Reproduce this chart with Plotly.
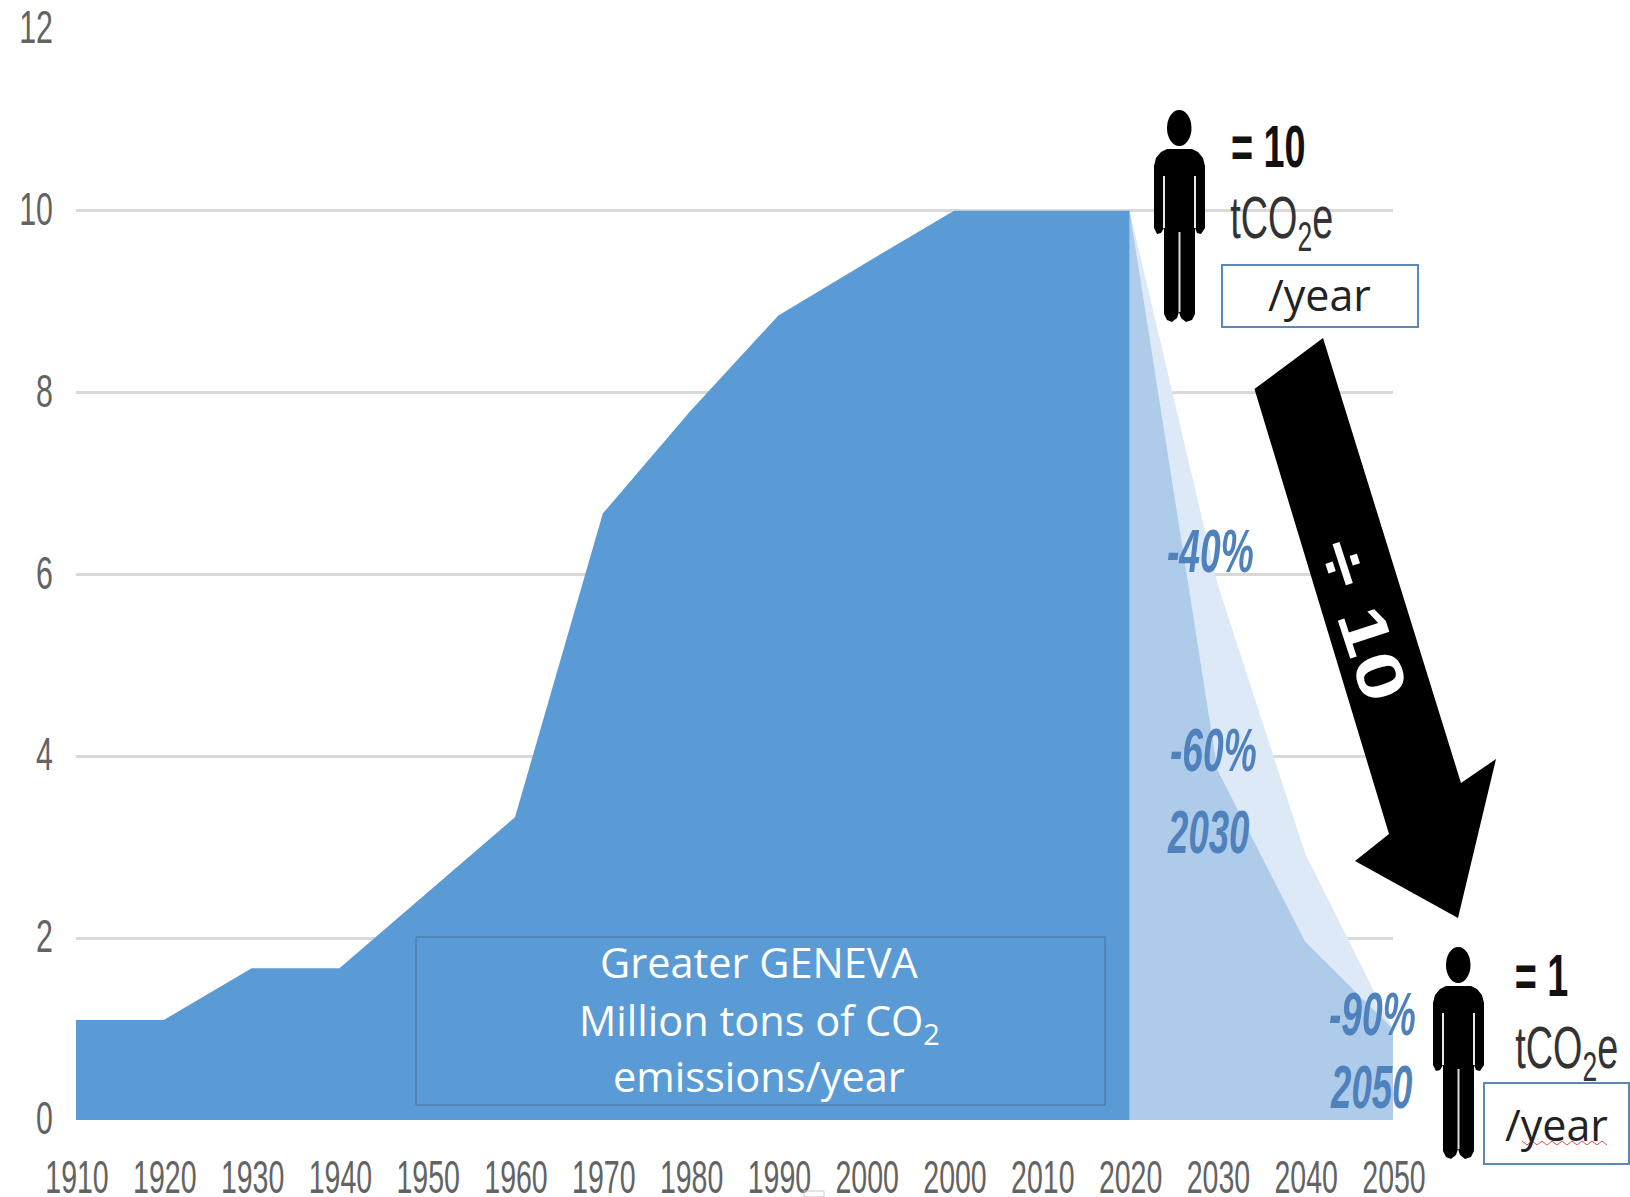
import plotly.graph_objects as go

W, H = 1630, 1197

# ---- data ----
tick_labels = ["1910", "1920", "1930", "1940", "1950", "1960", "1970", "1980",
               "1990", "2000", "2000", "2010", "2020", "2030", "2040", "2050"]
history_values = [1.1, 1.1, 1.67, 1.67, 2.5, 3.33, 6.67, 7.8, 8.85, 9.43, 10, 10, 10]
target_60_values = [10, 3.85, 1.96, 1.0]
target_40_values = [10, 5.9, 2.93, 1.0]
y_ticks = [0, 2, 4, 6, 8, 10, 12]

positions = list(range(len(tick_labels)))
history_pos = positions[:len(history_values)]
future_pos = positions[len(history_values) - 1:]

SANS = "Liberation Sans, sans-serif"
HUMAN = "Open Sans, Noto Sans, sans-serif"
BLUE = "#5b9bd5"
MID = "#aecce9"
LIGHT = "#dde9f6"
LABEL = "#4f81bd"
TICK = "#636363"


def px(x):
    return x / W


def py(y):
    return 1 - y / H


def path(points, close=True):
    s = "M " + " L ".join(f"{px(x):.5f},{py(y):.5f}" for x, y in points)
    return s + (" Z" if close else "")


def poly(points, fill, line=None, width=0):
    return dict(type="path", xref="paper", yref="paper", path=path(points),
                fillcolor=fill, line=dict(color=line or fill, width=width), layer="above")


def rect(x0, y0, x1, y1, fill="rgba(0,0,0,0)", line="#5b88b5", width=2):
    return dict(type="rect", xref="paper", yref="paper", x0=px(x0), x1=px(x1),
                y0=py(y1), y1=py(y0), fillcolor=fill,
                line=dict(color=line, width=width), layer="above")


def person(dx, dy):
    """Pictogram of a standing person; head centred on (1179, 128) before the shift."""
    def p(pts):
        return [(x + dx, y + dy) for x, y in pts]
    out = []
    out.append(dict(type="circle", xref="paper", yref="paper",
                    x0=px(1167 + dx), x1=px(1191.5 + dx), y0=py(146 + dy), y1=py(110 + dy),
                    fillcolor="black", line=dict(color="black", width=0), layer="above"))
    body = [(1167, 149), (1192, 149), (1198, 152), (1203, 158), (1205, 166),
            (1205, 228), (1201, 234), (1197, 233), (1195, 228), (1195, 314),
            (1192, 320), (1186, 322), (1181, 318), (1179, 312), (1177, 318),
            (1172, 322), (1167, 320), (1164, 314), (1164, 228), (1161, 233),
            (1157, 234), (1154, 228), (1154, 166), (1156, 158), (1161, 152)]
    out.append(poly(p(body), "black"))
    # thin gaps between arms and torso, and between the legs
    out.append(poly(p([(1163, 176), (1165, 176), (1165, 228), (1163, 228)]), "#e8e8e8"))
    out.append(poly(p([(1194, 176), (1196, 176), (1196, 228), (1194, 228)]), "#e8e8e8"))
    out.append(poly(p([(1178.5, 232), (1180.5, 232), (1180.5, 312), (1178.5, 312)]), "#dddddd"))
    return out


def label(x, y, text, size, color, family=SANS, bold=False, italic=False, angle=0):
    t = text
    if bold:
        t = f"<b>{t}</b>"
    if italic:
        t = f"<i>{t}</i>"
    return dict(xref="paper", yref="paper", x=px(x), y=py(y), text=t, showarrow=False,
                xanchor="center", yanchor="middle", textangle=angle,
                font=dict(family=family, size=size, color=color))


fig = go.Figure()
fig.add_trace(go.Scatter(x=future_pos, y=target_40_values, mode="lines", fill="tozeroy",
                         fillcolor=LIGHT, line=dict(width=0, color=LIGHT), hoverinfo="skip",
                         showlegend=False))
fig.add_trace(go.Scatter(x=future_pos, y=target_60_values, mode="lines", fill="tozeroy",
                         fillcolor=MID, line=dict(width=0, color=MID), hoverinfo="skip",
                         showlegend=False))
fig.add_trace(go.Scatter(x=history_pos, y=history_values, mode="lines", fill="tozeroy",
                         fillcolor=BLUE, line=dict(width=0, color=BLUE), hoverinfo="skip",
                         showlegend=False))

shapes = []
shapes.append(rect(416, 937, 1105, 1105, line="#44709a", width=1))
shapes.append(poly([(1323, 338), (1461, 783), (1496, 759), (1458, 918),
                    (1355, 861), (1389, 834), (1254.5, 389)], "black"))
shapes += person(0, 0)
shapes += person(279, 837)
shapes.append(rect(1222, 265, 1418, 327, fill="white", line="#5b88b5", width=2))
shapes.append(rect(1484, 1083, 1629, 1164, fill="white", line="#5b88b5", width=2))
# spell-check squiggle below the second /year
sq = [(1522 + 5 * i, 1145 if i % 2 else 1141) for i in range(18)]
shapes.append(dict(type="path", xref="paper", yref="paper", path=path(sq, close=False),
                   line=dict(color="#e2554f", width=1), layer="above"))
shapes.append(rect(804, 1191, 824, 1197, line="#c8c8c8", width=1))

annotations = [
    label(759, 962, "Greater GENEVA", 41.5, "white", HUMAN),
    label(759, 1023, "Million tons of CO<sub>2</sub>", 41.5, "white", HUMAN),
    label(759, 1076, "emissions/year", 41.5, "white", HUMAN),
    label(1268, 146, "= 10", 60, "#111111", SANS, bold=True),
    label(1281, 222, "tCO<sub>2</sub>e", 60, "#333333", SANS),
    label(1319, 294, "/year", 43, "#222222", HUMAN),
    label(1210, 551, "-40%", 62, LABEL, SANS, bold=True, italic=True),
    label(1213, 749, "-60%", 62, LABEL, SANS, bold=True, italic=True),
    label(1208, 831, "2030", 62, LABEL, SANS, bold=True, italic=True),
    label(1372, 1013, "-90%", 62, LABEL, SANS, bold=True, italic=True),
    label(1371, 1086, "2050", 62, LABEL, SANS, bold=True, italic=True),
    label(1541, 975, "= 1", 60, "#111111", SANS, bold=True),
    label(1566, 1052, "tCO<sub>2</sub>e", 60, "#333333", SANS),
    label(1556, 1124, "/year", 43, "#222222", HUMAN),
    label(1362, 620, "÷ 10", 66, "white", SANS, bold=True, angle=72),
]

fig.update_layout(
    width=W, height=H, margin=dict(l=0, r=0, t=0, b=0),
    paper_bgcolor="white", plot_bgcolor="white",
    showlegend=False, shapes=shapes, annotations=annotations,
    xaxis=dict(domain=[px(76), px(1393)], range=[0, 15], tickmode="array",
               tickvals=positions, ticktext=tick_labels, showgrid=False, zeroline=False,
               showline=False, ticks="", ticklabelstandoff=26, automargin=False, tickangle=0,
               tickfont=dict(family=SANS, size=46, color=TICK)),
    yaxis=dict(domain=[py(1120), py(29)], range=[0, 12], tickmode="array",
               tickvals=y_ticks, showgrid=True, gridcolor="#d9d9d9", gridwidth=3,
               zeroline=False, showline=False, ticks="", ticklabelstandoff=22,
               automargin=False,
               tickfont=dict(family=SANS, size=46, color=TICK)),
)

# The reference's lettering is a horizontally squeezed picture of Arial-like text;
# no condensed font is installed, so the real text is squeezed the same way here.
squeeze_js = """
(function () {
  var factors = {'= 10': .63, '= 1': .63, 'tCO2e': .63, '-40%': .6, '-60%': .6, '-90%': .6,
                 '2030': .59, '2050': .59, '÷ 10': 1.3};
  function squeeze(el, f, anchor, dx, dy) {
    if (el.getAttribute('data-squeezed')) return;
    var b = el.getBBox();
    if (!b.width) return;
    var c = anchor === 'end' ? b.x + b.width : b.x + b.width / 2;
    var t = el.getAttribute('transform') || '';
    el.setAttribute('transform', t + ' translate(' + (c + (dx || 0)) + ',' + (dy || 0) + ') scale(' + f + ',1) translate(' + (-c) + ',0)');
    el.setAttribute('data-squeezed', '1');
  }
  function run() {
    document.querySelectorAll('.xtick text').forEach(function (e) { squeeze(e, .62, 'mid', 1, 0); });
    document.querySelectorAll('.ytick text').forEach(function (e) { squeeze(e, .66, 'end', 0, -2); });
    document.querySelectorAll('.annotation-text').forEach(function (e) {
      var f = factors[e.textContent.replace(/\\u200b/g, '')];
      if (f) squeeze(e, f);
    });
  }
  document.body.style.margin = '0';
  document.documentElement.style.overflow = 'hidden';
  window.dispatchEvent(new Event('resize'));
  run();
  setTimeout(run, 50);
  setTimeout(run, 300);
})();
"""

fig.write_html("out.html", config=dict(displayModeBar=False), post_script=squeeze_js)
